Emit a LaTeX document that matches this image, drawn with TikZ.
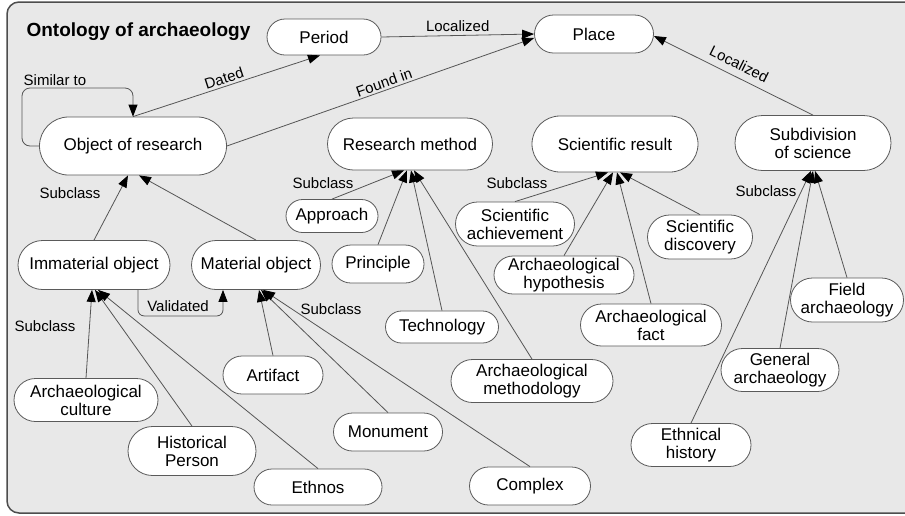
\documentclass[tikz,border=0pt]{standalone}
\usepackage{fontspec}
\setmainfont{Liberation Sans}
\usetikzlibrary{shapes.misc,arrows.meta,calc}
\definecolor{bg}{HTML}{E8E8E8}
\definecolor{framec}{HTML}{4D4D4D}
\definecolor{edgec}{HTML}{555555}
\definecolor{nborder}{HTML}{5A5A5A}
\begin{document}
\begin{tikzpicture}[x=1pt,y=-1pt,
  cls/.style={rounded rectangle, draw=nborder, line width=0.8pt, fill=white, inner sep=0pt, align=center, font=\fontsize{17}{18}\selectfont},
  sz/.style 2 args={minimum width=#1pt, minimum height=#2pt},
  rel/.style={draw=edgec, line width=0.8pt, -{Triangle[length=12pt,width=9pt,color=black]}},
  lbl/.style={font=\fontsize{15}{16}\selectfont, inner sep=1pt}]
\useasboundingbox (0,0) rectangle (905,515);
\clip (0,0) rectangle (905,515);
\draw[draw=framec, fill=bg, line width=1.5pt, rounded corners=12pt] (7,2) rectangle (930,513);
\node[anchor=west, font=\fontsize{19}{20}\selectfont\bfseries] (title) at (23,32) {Ontology of archaeology};

% nodes
\node[cls, sz={114}{36}] (period) at (324,37) {Period};
\node[cls, sz={119}{38}] (place) at (594,34) {Place};
\node[cls, sz={187}{58}] (obj) at (133,146) {Object of research};
\node[cls, sz={165}{52}] (rm) at (410,144) {Research method};
\node[cls, sz={166}{56}] (sr) at (615,144) {Scientific result};
\node[cls, sz={156}{55}] (sub) at (813,143) {Subdivision\\of science};
\node[cls, sz={152}{49}] (imm) at (94,265) {Immaterial object};
\node[cls, sz={129}{49}] (mat) at (256,265) {Material object};
\node[cls, sz={92}{33}] (app) at (332,216) {Approach};
\node[cls, sz={92}{38}] (prin) at (378,264) {Principle};
\node[cls, sz={113}{32}] (tech) at (442,327) {Technology};
\node[cls, sz={162}{43}] (meth) at (532,381) {Archaeological\\methodology};
\node[cls, sz={119}{44}] (ach) at (515,224) {Scientific\\achievement};
\node[cls, sz={140}{38}] (hyp) at (564,275) {Archaeological\\hypothesis};
\node[cls, sz={105}{44}] (disc) at (700,237) {Scientific\\discovery};
\node[cls, sz={141}{42}] (fact) at (651,325) {Archaeological\\fact};
\node[cls, sz={113}{44}] (field) at (847,300) {Field\\archaeology};
\node[cls, sz={118}{43}] (gen) at (780,370) {General\\archaeology};
\node[cls, sz={120}{43}] (eth) at (691,445) {Ethnical\\history};
\node[cls, sz={121}{38}] (cplx) at (530,486) {Complex};
\node[cls, sz={100}{38}] (art) at (273,375) {Artifact};
\node[cls, sz={109}{38}] (mon) at (388,432) {Monument};
\node[cls, sz={144}{43}] (cult) at (86,400) {Archaeological\\culture};
\node[cls, sz={128}{49}] (hist) at (192,451) {Historical\\Person};
\node[cls, sz={128}{36}] (ethnos) at (318,487) {Ethnos};

% relations between top-level classes
\draw[rel] (period.east) -- node[lbl, above=2pt] {Localized} (place.west);
\draw[rel] (obj.north) -- node[lbl, sloped, above=1pt] {Dated} ([xshift=-4pt]period.south);
\draw[rel] (obj.east) -- node[lbl, sloped, above=1pt, pos=0.52] {Found in} ([yshift=-4pt]place.west);
\draw[rel] (sub.north) -- node[lbl, sloped, above=6pt] {Localized} ([yshift=-2pt]place.east);
\coordinate (loopc) at (22,88);
\draw[rel, rounded corners=8pt] (obj.west) -| (loopc) -| (obj.north);
\node[lbl] (simlbl) at (55,80) {Similar to};
\draw[rel, rounded corners=6pt] ([xshift=44pt]imm.south) |- ([xshift=-33pt,yshift=-26pt]mat.south) -- ([xshift=-33pt]mat.south);
\node[lbl] (vallbl) at (178,306) {Validated};

% subclass edges
\draw[rel] (imm.north) -- ([xshift=-5pt]obj.south);
\draw[rel] (mat.north) -- ([xshift=6pt]obj.south);
\draw[rel] (app.north) -- ([xshift=-6pt]rm.south);
\draw[rel] (prin.north) -- ([xshift=-3pt]rm.south);
\draw[rel] (tech.north) -- ([xshift=1pt]rm.south);
\draw[rel] (meth.north) -- ([xshift=4pt]rm.south);
\draw[rel] (ach.north) -- ([xshift=-7pt]sr.south);
\draw[rel] (hyp.north) -- ([xshift=-2pt]sr.south);
\draw[rel] (fact.north) -- ([xshift=2pt]sr.south);
\draw[rel] (disc.north) -- ([xshift=5pt]sr.south);
\draw[rel] (eth.north) -- ([xshift=-2pt]sub.south);
\draw[rel] (gen.north) -- (sub.south);
\draw[rel] (field.north) -- ([xshift=2pt]sub.south);
\draw[rel] (cult.north) -- ([xshift=-2pt]imm.south);
\draw[rel] (hist.north) -- ([xshift=1pt]imm.south);
\draw[rel] (ethnos.north) -- ([xshift=4pt]imm.south);
\draw[rel] (art.north) -- ([xshift=3pt]mat.south);
\draw[rel] (mon.north) -- ([xshift=5pt]mat.south);
\draw[rel] (cplx.north) -- ([xshift=7pt]mat.south);

% subclass labels
\node[lbl] (s1) at (70,193) {Subclass};
\node[lbl] (s2) at (323,183) {Subclass};
\node[lbl] (s3) at (517,183) {Subclass};
\node[lbl] (s4) at (766,191) {Subclass};
\node[lbl] (s5) at (45,326) {Subclass};
\node[lbl] (s6) at (331,309) {Subclass};
\end{tikzpicture}
\end{document}
